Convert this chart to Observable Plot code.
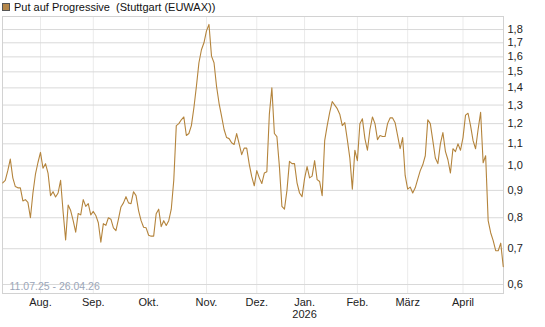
<!DOCTYPE html>
<html>
<head>
<meta charset="utf-8">
<script src="https://cdn.jsdelivr.net/npm/d3@7"></script>
<script src="https://cdn.jsdelivr.net/npm/@observablehq/plot@0.6"></script>
<style>
  html, body { margin: 0; padding: 0; background: #fff; }
  #wrap { position: relative; width: 545px; height: 327px; font-family: "Liberation Sans", Arial, sans-serif; }
  #title { position: absolute; left: 2px; top: 0px; font-size: 11px; line-height: 15px; color: #111; white-space: pre; }
  #title .sw { display: inline-block; width: 6px; height: 6px; background: #b5874a; border: 1px solid #555; margin-right: 4px; vertical-align: -0px; }
</style>
</head>
<body>
<div id="wrap">
  <div id="title"><span class="sw"></span>Put auf Progressive  (Stuttgart (EUWAX))</div>
</div>
<script>
// Daily values (trading-day index 0 = 11.07.25)
const values = [
  0.93,0.94,0.98,1.03,0.95,0.915,0.91,0.91,0.86,0.865,
  0.855,0.80,0.89,0.965,1.015,1.06,0.99,1.01,0.97,0.88,
  0.895,0.875,0.89,0.94,0.82,0.727,0.845,0.825,0.79,0.752,
  0.815,0.81,0.865,0.84,0.85,0.81,0.822,0.808,0.783,0.72,
  0.78,0.774,0.80,0.795,0.766,0.757,0.795,0.838,0.853,0.876,
  0.853,0.85,0.895,0.88,0.825,0.79,0.768,0.766,0.742,0.739,
  0.739,0.814,0.83,0.77,0.79,0.774,0.79,0.83,0.94,1.19,
  1.20,1.22,1.235,1.14,1.15,1.19,1.285,1.41,1.56,1.65,
  1.70,1.79,1.84,1.605,1.56,1.41,1.31,1.24,1.17,1.13,
  1.125,1.105,1.097,1.15,1.10,1.05,1.08,1.08,1.008,0.955,
  0.918,0.98,0.95,0.927,0.97,0.975,1.25,1.40,1.15,1.135,
  0.997,0.84,0.83,0.90,1.02,1.01,1.01,0.93,0.89,0.876,
  0.947,0.997,0.95,0.957,1.023,0.943,0.935,0.88,1.115,1.19,
  1.26,1.32,1.30,1.28,1.25,1.19,1.205,1.12,1.035,0.905,
  1.07,1.023,1.20,1.225,1.125,1.07,1.17,1.235,1.20,1.12,
  1.14,1.135,1.135,1.20,1.23,1.23,1.205,1.14,1.077,1.13,
  0.96,0.905,0.913,0.89,0.91,0.945,0.98,1.005,1.045,1.22,
  1.20,1.115,1.035,1.01,1.10,1.155,1.065,1.027,0.97,1.077,
  1.064,1.10,1.07,1.13,1.245,1.255,1.19,1.115,1.077,1.17,
  1.26,1.014,1.045,0.79,0.75,0.725,0.694,0.694,0.717,0.648
];

// Month labels and the trading-day index of each month's first trading day
const monthLabels = ["Aug.", "Sep.", "Okt.", "Nov.", "Dez.", "Jan.", "Feb.", "März", "April"];
const monthIndex  = [15, 36, 58, 81, 101, 120, 141, 161, 183];
const yearLabel = "2026";
const yearIndex = 120;

const yTicks = [0.6, 0.7, 0.8, 0.9, 1.0, 1.1, 1.2, 1.3, 1.4, 1.5, 1.6, 1.7, 1.8];
const rangeLabel = "11.07.25 - 26.04.26";

const labelByIndex = new Map(monthIndex.map((d, i) => [d, monthLabels[i]]));
const lineColor = "#b4843c";

const chart = Plot.plot({
  width: 545,
  height: 327,
  marginLeft: 2,
  marginRight: 42,
  marginTop: 16,
  marginBottom: 34,
  style: { fontFamily: "'Liberation Sans', Arial, sans-serif", fontSize: "11px", color: "#222", background: "transparent" },
  x: { type: "linear", domain: [-0.1, 199.1] },
  y: { type: "log", domain: [0.5772, 1.904] },
  marks: [
    Plot.gridX(monthIndex, { stroke: "#ebebeb", strokeOpacity: 1 }),
    Plot.gridY(yTicks, { stroke: "#d9d9d9", strokeOpacity: 1 }),
    Plot.frame({ stroke: "#d2d2d2" }),
    Plot.axisY(yTicks, {
      anchor: "right", tickSize: 0, tickPadding: 4, label: null,
      tickFormat: d => d.toFixed(1).replace(".", ",")
    }),
    Plot.axisX(monthIndex, {
      anchor: "bottom", tickSize: 0, tickPadding: 5, label: null,
      tickFormat: d => labelByIndex.get(d)
    }),
    Plot.text([yearLabel], { x: [yearIndex], frameAnchor: "bottom", dy: 21, lineAnchor: "middle", text: d => d, fill: "#222" }),
    Plot.text([rangeLabel], { frameAnchor: "bottom-left", dx: 7, dy: -7, lineAnchor: "middle", textAnchor: "start", text: d => d, fill: "#9ba6b8", fontSize: 10.5 }),
    Plot.line(values, { x: (d, i) => i, y: d => d, stroke: lineColor, strokeWidth: 1.1 })
  ]
});
chart.style.position = "absolute";
chart.style.left = "0px";
chart.style.top = "0px";
document.getElementById("wrap").prepend(chart);
</script>
</body>
</html>
